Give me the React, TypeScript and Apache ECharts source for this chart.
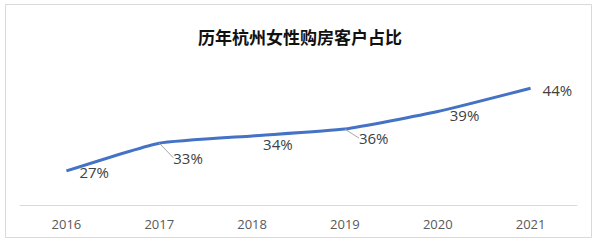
import React, { useEffect, useRef } from "react";
import * as echarts from "echarts";

const title = "历年杭州女性购房客户占比";
const years = ["2016", "2017", "2018", "2019", "2020", "2021"];
const shares = [27.0, 32.7, 34.2, 35.6, 39.2, 44.0];
const labelOffsets: [number, number][] = [
  [8, 1.5],
  [9, 14.5],
  [6, 8],
  [9, 9],
  [7, 3],
  [7, 2],
];
const leaderLines = [false, true, false, true, false, false];

export default function App() {
  const ref = useRef<HTMLDivElement>(null);
  useEffect(() => {
    if (!ref.current) return;
    const chart = echarts.init(ref.current, undefined, { renderer: "svg" });
    chart.setOption({
      animation: false,
      backgroundColor: "#ffffff",
      title: {
        text: title,
        left: "center",
        top: 23,
        textStyle: {
          fontSize: 17,
          fontWeight: "bold",
          color: "#111111",
          fontFamily: "Noto Sans CJK SC",
        },
      },
      graphic: [
        {
          type: "rect",
          shape: { x: 5.5, y: 4.5, width: 586, height: 233 },
          style: { fill: "none", stroke: "#d9d9d9", lineWidth: 1 },
          z: -1,
        },
      ],
      grid: { left: 20, right: 23, top: 59, bottom: 41 },
      xAxis: {
        type: "category",
        data: years,
        boundaryGap: true,
        axisLine: { lineStyle: { color: "#d9d9d9", width: 1 } },
        axisTick: { show: false },
        axisLabel: {
          color: "#595959",
          fontSize: 13,
          margin: 12,
          fontFamily: "Open Sans",
        },
      },
      yAxis: {
        type: "value",
        min: 20,
        max: 50,
        show: false,
        splitLine: { show: false },
      },
      series: [
        {
          type: "line",
          data: shares.map((v, i) => ({
            value: v,
            labelLine: { show: leaderLines[i] },
          })),
          smooth: 0.15,
          showSymbol: true,
          symbol: "circle",
          symbolSize: 0,
          itemStyle: { color: "#4472C4" },
          lineStyle: { color: "#4472C4", width: 3 },
          label: {
            show: true,
            position: "right",
            distance: 5,
            color: "#404040",
            fontSize: 15,
            fontFamily: "Open Sans",
            formatter: (p: any) => Math.round(p.value) + "%",
          },
          labelLine: {
            show: false,
            length2: 4,
            lineStyle: { color: "#a6a6a6", width: 1 },
          },
          labelLayout: (params: any) => {
            const o = labelOffsets[params.dataIndex];
            return { dx: o[0], dy: o[1] };
          },
        },
      ],
    });
    return () => chart.dispose();
  }, []);
  return (
    <div
      ref={ref}
      style={{ position: "absolute", left: 0, top: 0, width: 600, height: 246 }}
    />
  );
}
